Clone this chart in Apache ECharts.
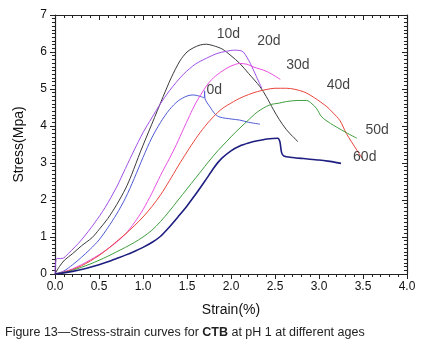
<!DOCTYPE html>
<html><head><meta charset="utf-8">
<script src="https://cdn.jsdelivr.net/npm/echarts@6/dist/echarts.min.js"></script>
<style>html,body{margin:0;padding:0;background:#fff}#c{width:427px;height:356px}</style>
</head><body><div id="c"></div>
<script>
// Curve data: strain (%) and stress (MPa)
const strain0d = [0,0.1,0.2,0.3,0.4,0.5,0.6,0.7,0.8,0.9,1.0,1.1,1.2,1.3,1.4,1.5,1.57,1.65,1.695,1.70,1.705,1.76,1.82,1.875,2.0,2.1,2.2,2.33];
const stress0d = [0,0.08,0.25,0.45,0.67,0.92,1.25,1.62,2.05,2.58,3.15,3.68,4.1,4.44,4.68,4.81,4.84,4.8,4.76,4.95,4.74,4.52,4.32,4.24,4.19,4.16,4.1,4.05];
const strain10d = [0,0.05,0.11,0.2,0.3,0.42,0.5,0.6,0.7,0.8,0.87,0.97,1.1,1.23,1.32,1.42,1.5,1.57,1.65,1.72,1.8,1.9,2.0,2.1,2.2,2.33,2.4,2.48,2.55,2.63,2.7,2.76];
const stress10d = [0,0.2,0.38,0.55,0.76,0.98,1.2,1.5,1.87,2.3,2.68,3.3,4.05,4.8,5.3,5.76,6.0,6.11,6.19,6.21,6.17,6.08,5.9,5.69,5.42,5.06,4.8,4.45,4.17,3.9,3.72,3.58];
const strain20d = [0,0.02,0.08,0.15,0.3,0.45,0.57,0.7,0.8,0.9,1.0,1.1,1.19,1.3,1.46,1.6,1.72,1.84,1.95,2.03,2.1,2.14,2.18,2.22,2.29,2.35];
const stress20d = [0,0.42,0.42,0.55,0.92,1.38,1.8,2.35,2.85,3.35,3.82,4.22,4.57,4.95,5.4,5.68,5.83,5.96,6.02,6.05,6.04,6.0,5.86,5.69,5.33,5.02];
const strain30d = [0,0.1,0.2,0.3,0.4,0.5,0.6,0.7,0.8,0.9,1.0,1.1,1.2,1.3,1.38,1.46,1.53,1.6,1.72,1.8,1.91,2.0,2.1,2.18,2.25,2.41,2.56];
const stress30d = [0,0.06,0.14,0.25,0.38,0.52,0.68,0.86,1.08,1.38,1.74,2.18,2.67,3.12,3.5,3.92,4.28,4.62,5.08,5.3,5.5,5.62,5.69,5.67,5.6,5.47,5.26];
const strain40d = [0,0.1,0.2,0.3,0.4,0.5,0.6,0.7,0.8,0.9,1.0,1.1,1.2,1.3,1.4,1.5,1.6,1.7,1.8,1.9,2.03,2.1,2.2,2.3,2.41,2.5,2.63,2.82,2.95,3.09,3.15,3.24,3.31,3.43,3.49];
const stress40d = [0,0.05,0.12,0.22,0.35,0.5,0.68,0.88,1.08,1.3,1.54,1.82,2.14,2.52,2.92,3.3,3.66,3.98,4.25,4.47,4.66,4.75,4.85,4.93,4.99,5.02,5.02,4.93,4.76,4.52,4.38,4.14,3.8,3.35,3.13];
const strain50d = [0,0.1,0.2,0.3,0.4,0.5,0.6,0.7,0.8,0.9,1.0,1.1,1.2,1.3,1.4,1.5,1.6,1.7,1.75,1.85,1.95,2.05,2.18,2.3,2.44,2.55,2.63,2.75,2.86,2.92,2.97,3.03,3.13,3.2,3.31,3.43];
const stress50d = [0,0.04,0.1,0.18,0.27,0.37,0.48,0.6,0.72,0.85,1.0,1.18,1.42,1.7,2.0,2.3,2.6,2.9,3.05,3.33,3.58,3.83,4.12,4.38,4.57,4.62,4.66,4.69,4.69,4.6,4.48,4.25,4.07,3.97,3.82,3.67];
const strain60d = [0,0.1,0.2,0.3,0.4,0.5,0.6,0.7,0.8,0.9,1.0,1.1,1.2,1.3,1.4,1.5,1.6,1.7,1.8,1.85,1.9,2.0,2.1,2.2,2.3,2.41,2.53,2.555,2.575,2.6,2.7,2.82,3.0,3.1,3.25];
const stress60d = [0,0.03,0.07,0.12,0.18,0.25,0.33,0.42,0.51,0.61,0.72,0.85,1.02,1.27,1.55,1.84,2.16,2.5,2.85,3.01,3.14,3.33,3.46,3.54,3.6,3.65,3.67,3.58,3.28,3.19,3.15,3.12,3.08,3.05,2.99];

const seriesNames = ['0d','10d','20d','30d','40d','50d','60d'];
const labelStrain = [1.81,1.97,2.43,2.76,3.22,3.66,3.52];
const labelStress = [4.97,6.49,6.30,5.65,5.11,3.89,3.16];

const xTicks = [0,0.5,1.0,1.5,2.0,2.5,3.0,3.5,4.0];
const yTicks = [0,1,2,3,4,5,6,7];

const colors = ['#4f5bd5','#3a3a3a','#a050e6','#e84fe0','#e8453c','#3e9e3e','#1e1e80'];
const widths = [1,1,1,1,1,1,1.6];
const xs = [strain0d,strain10d,strain20d,strain30d,strain40d,strain50d,strain60d];
const ys = [stress0d,stress10d,stress20d,stress30d,stress40d,stress50d,stress60d];

const series = seriesNames.map((n,i)=>({
  name:n, type:'line', showSymbol:false, symbol:'none', smooth:0.3,
  data: xs[i].map((x,j)=>[x, ys[i][j]]),
  lineStyle:{color:colors[i], width:widths[i]}, itemStyle:{color:colors[i]},
  z: 2, silent:true, animation:false
}));
series.push({
  type:'scatter', symbolSize:0, animation:false, silent:true,
  data: seriesNames.map((n,i)=>({value:[labelStrain[i],labelStress[i]], name:n})),
  label:{show:true, position:'inside', formatter:p=>p.name, color:'#111', fontSize:14, fontFamily:'Liberation Sans'}
});

const font = 'Liberation Sans';
const chart = echarts.init(document.getElementById('c'), null, {renderer:'canvas'});
chart.setOption({
  animation:false,
  backgroundColor:'#fff',
  grid:{left:55, right:20, top:15, bottom:82},
  xAxis:[{
    type:'value', min:xTicks[0], max:xTicks[xTicks.length-1], interval:0.5,
    name:'Strain(%)', nameLocation:'middle', nameGap:29,
    nameTextStyle:{fontSize:14, color:'#111', fontFamily:font},
    axisLine:{show:true, onZero:false, lineStyle:{color:'#222', width:1.2}},
    axisTick:{show:true, inside:false, length:5, lineStyle:{color:'#222'}},
    minorTick:{show:true, splitNumber:5, length:3, lineStyle:{color:'#222'}},
    axisLabel:{fontSize:12, color:'#111', fontFamily:font, margin:7, formatter:v=>v.toFixed(1)},
    splitLine:{show:false}
  },{
    type:'value', position:'top', min:xTicks[0], max:xTicks[xTicks.length-1], interval:0.5,
    axisLine:{show:true, onZero:false, lineStyle:{color:'#222', width:1.2}},
    axisTick:{show:true, inside:true, length:5, lineStyle:{color:'#222'}},
    minorTick:{show:true, splitNumber:5, length:3, lineStyle:{color:'#222'}},
    axisLabel:{show:false}, splitLine:{show:false}
  }],
  yAxis:[{
    type:'value', min:yTicks[0], max:yTicks[yTicks.length-1], interval:1,
    name:'Stress(Mpa)', nameLocation:'middle', nameGap:29,
    nameTextStyle:{fontSize:14, color:'#111', fontFamily:font},
    axisLine:{show:true, onZero:false, lineStyle:{color:'#222', width:1.2}},
    axisTick:{show:true, inside:false, length:5, lineStyle:{color:'#222'}},
    minorTick:{show:true, splitNumber:10, length:3, lineStyle:{color:'#222'}},
    axisLabel:{fontSize:12, color:'#111', fontFamily:font, margin:8},
    splitLine:{show:false}
  },{
    type:'value', position:'right', min:yTicks[0], max:yTicks[yTicks.length-1], interval:1,
    axisLine:{show:true, onZero:false, lineStyle:{color:'#222', width:1.2}},
    axisTick:{show:true, inside:true, length:5, lineStyle:{color:'#222'}},
    minorTick:{show:true, splitNumber:10, length:3, lineStyle:{color:'#222'}},
    axisLabel:{show:false}, splitLine:{show:false}
  }],
  series: series,
  graphic:[{
    type:'text', left:5, top:326,
    style:{
      text:'{n|Figure 13\u2014Stress-strain curves for }{b|CTB}{n| at pH 1 at different ages}',
      rich:{
        n:{fontSize:12.5, fontFamily:font, fill:'#222'},
        b:{fontSize:12.5, fontFamily:font, fontWeight:'bold', fill:'#222'}
      }
    }
  }]
});
</script></body></html>
